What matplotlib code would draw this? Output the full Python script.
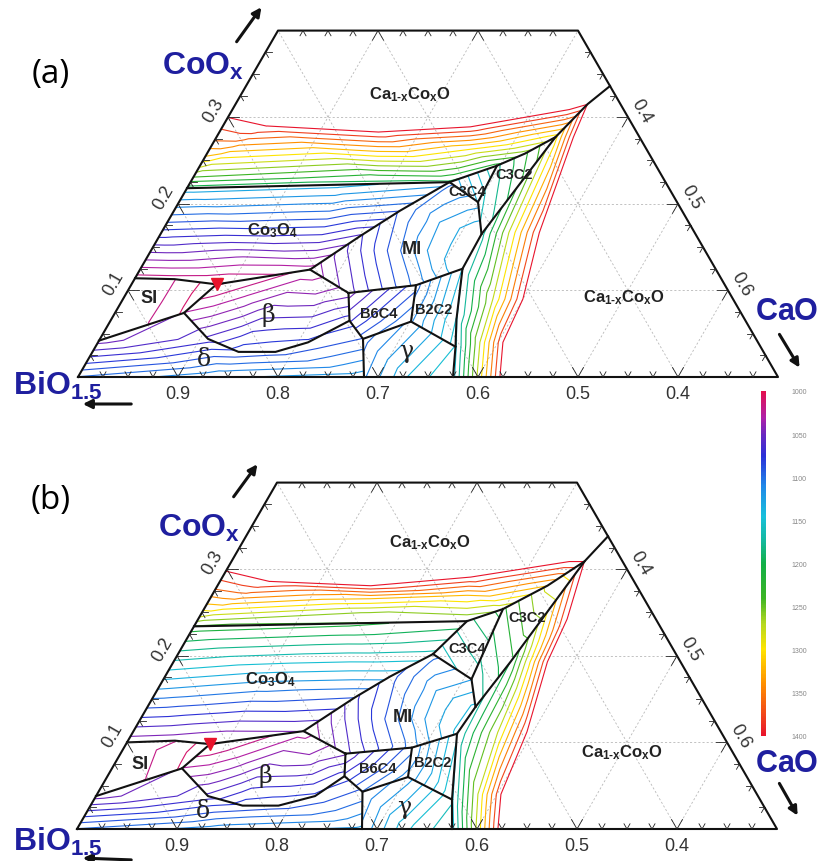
import numpy as np
import matplotlib
matplotlib.use('Agg')
import matplotlib.pyplot as plt
import matplotlib.tri as mtri
from matplotlib.colors import LinearSegmentedColormap, Normalize
from matplotlib.patches import Polygon
from matplotlib.cm import ScalarMappable

plt.rcParams['font.family'] = ['Liberation Sans', 'DejaVu Sans']
plt.rcParams['mathtext.fontset'] = 'custom'
plt.rcParams['mathtext.rm'] = 'Liberation Sans'
plt.rcParams['mathtext.bf'] = 'Liberation Sans:bold'
plt.rcParams['mathtext.it'] = 'Liberation Sans:italic'

# colour scale of the isotherms (deg C)
T_STOPS = [1000, 1030, 1050, 1075, 1110, 1145, 1175, 1200, 1240, 1270, 1300, 1340, 1400]
T_COLORS = ['#e4104e', '#b020a8', '#6a28c0', '#2a30d8', '#2088e8', '#18c0dc', '#14b89a',
            '#12b048', '#3cb424', '#b4d820', '#ffe400', '#ff9000', '#e8142c']
CBAR_TICKS = [1000, 1050, 1100, 1150, 1200, 1250, 1300, 1350, 1400]
BI_TICKS = [0.9, 0.8, 0.7, 0.6, 0.5, 0.4]
CO_TICKS = [0.1, 0.2, 0.3]
CA_TICKS = [0.4, 0.5, 0.6]

# ---------------- panel (a): compositions (CaO, CoOx) ----------------
a_L1 = (0.000, 0.114); a_S1 = (0.040, 0.113); a_T = (0.085, 0.107)
a_J1 = (0.170, 0.124); a_J2 = (0.069, 0.074); a_L2 = (0.000, 0.042)
a_D0 = (0.108, 0.044); a_D1 = (0.146, 0.029); a_D2 = (0.183, 0.029); a_D3 = (0.210, 0.040)
a_BTL = (0.222, 0.097); a_BTR = (0.285, 0.106); a_BBR = (0.301, 0.064)
a_BB = (0.263, 0.044); a_BBL = (0.239, 0.065); a_G0 = (0.286, 0.000)
a_M0 = (0.201, 0.163); a_M1 = (0.226, 0.192)
a_C4a = (0.259, 0.225); a_C4c = (0.297, 0.244); a_C4d = (0.299, 0.202)
a_J5 = (0.321, 0.165); a_J3 = (0.322, 0.125); a_R1 = (0.345, 0.067)
a_J4 = (0.360, 0.035); a_R0 = (0.375, 0.000)
a_K = (0.339, 0.277); a_K2 = (0.318, 0.258); a_P = (0.352, 0.315); a_E = (0.364, 0.336)
a_W = (0.000, 0.218)

A_BOUNDS = [
    [a_W, a_C4a, a_C4c, a_K2, a_K, a_P, a_E],
    [a_L1, a_S1, a_T, a_J1, a_M0, a_M1, a_C4a],
    [a_C4a, a_C4d, a_J5], [a_C4c, a_C4d],
    [a_K, a_J5, a_J3, a_R1, a_J4, a_R0],
    [a_T, a_J2, a_L2], [a_J2, a_D0, a_D1, a_D2, a_D3, a_BBL],
    [a_J1, a_BTL, a_BTR, a_BBR, a_BB, a_BBL, a_BTL],
    [a_BTR, a_J3], [a_BBR, a_J4], [a_BB, a_G0],
]

A_TOP = [a_W, (0.0, 0.4), (0.3, 0.4), a_E, a_P, a_K, a_K2, a_C4c, a_C4a]
A_TOP_T = [((0.0, 0.4), 1500), ((0.15, 0.4), 1500), ((0.3, 0.4), 1500), (a_E, 1450),
           (a_P, 1400), (a_K, 1290), (a_K2, 1250), (a_C4c, 1212), (a_C4a, 1195), (a_W, 1190),
           ((0.0, 0.300), 1400), ((0.0, 0.273), 1360), ((0.0, 0.255), 1320),
           ((0.0, 0.242), 1280), ((0.0, 0.231), 1240),
           ((0.044, 0.290), 1400), ((0.159, 0.283), 1400), ((0.248, 0.289), 1400),
           ((0.337, 0.309), 1400), ((0.172, 0.255), 1300), ((0.186, 0.229), 1205),
           ((0.260, 0.263), 1300)]
A_TOP_LEV = list(range(1200, 1401, 20))

A_CO = [a_L1, a_W, a_C4a, a_M1, a_M0, a_J1, a_T, a_S1]
A_CO_T = [(a_L1, 1015), (a_S1, 1015), (a_T, 1008), (a_J1, 1025), (a_M0, 1058), (a_M1, 1090),
          (a_C4a, 1125), (a_W, 1135), ((0.15, 0.221), 1132), ((0.0, 0.166), 1075),
          ((0.10, 0.165), 1072), ((0.10, 0.135), 1035)]
A_CO_LEV = list(range(1020, 1131, 10))

A_SI = [a_L1, a_S1, a_T, a_J2, a_L2]
A_SI_T = [(a_L1, 1030), (a_L2, 1032), ((0.0, 0.078), 1035), (a_S1, 1020), ((0.041, 0.061), 1019),
          (a_T, 1003), (a_J2, 1008), ((0.058, 0.092), 1012)]
A_SI_LEV = [1010, 1020]

A_BETA = [a_T, a_J1, a_BTL, a_BBL, a_D3, a_D2, a_D1, a_D0, a_J2]
A_BETA_T = [(a_T, 1008), (a_J1, 1022), (a_BTL, 1045), (a_BBL, 1075), (a_D3, 1082), (a_D2, 1088),
            (a_D1, 1085), (a_D0, 1062), (a_J2, 1030), ((0.15, 0.07), 1058),
            ((0.12, 0.095), 1028), ((0.19, 0.095), 1040)]
A_BETA_LEV = list(range(1010, 1081, 10))

A_DELTA = [(0.0, 0.0), a_L2, a_J2, a_D0, a_D1, a_D2, a_D3, a_BBL, a_BB, a_G0]
A_DELTA_T = [((0.0, 0.0), 1100), (a_L2, 1045), (a_J2, 1050), (a_D0, 1065), (a_D1, 1082),
             (a_D2, 1085), (a_D3, 1082), (a_BBL, 1075), (a_BB, 1090), (a_G0, 1125),
             ((0.143, 0.0), 1118)]
A_DELTA_LEV = list(range(1050, 1121, 10))

A_MI = [a_J1, a_M0, a_M1, a_C4a, a_C4d, a_J5, a_J3, a_BTR, a_BTL]
A_MI_T = [(a_J1, 1031), (a_BTL, 1055), (a_BTR, 1103), (a_J3, 1140), (a_J5, 1140), (a_C4d, 1115),
          (a_C4a, 1097), (a_M0, 1068), (a_M1, 1091),
          ((0.277, 0.146), 1120), ((0.237, 0.146), 1090), ((0.197, 0.146), 1060),
          ((0.273, 0.178), 1120), ((0.251, 0.194), 1105), ((0.292, 0.125), 1120),
          ((0.266, 0.105), 1090), ((0.294, 0.192), 1120)]
A_MI_LEV = list(range(1040, 1131, 10))

A_C34 = [a_C4a, a_C4c, a_C4d]
A_C34_T = [(a_C4a, 1120), (a_C4c, 1170), (a_C4d, 1140)]
A_C34_LEV = [1130, 1140, 1150, 1160]

A_C32 = [a_C4c, a_K2, a_K, a_J5, a_C4d]
A_C32_T = [(a_C4c, 1175), (a_K2, 1215), (a_K, 1265), (a_J5, 1165), (a_C4d, 1150)]
A_C32_LEV = list(range(1160, 1261, 20))

A_RIGHT = [a_K, a_P, a_E, (0.7, 0.0), a_R0, a_J4, a_R1, a_J3, a_J5]
A_RIGHT_T = [(a_K, 1290), (a_P, 1400), (a_E, 1450), ((0.7, 0.0), 1600), ((0.5, 0.0), 1500),
             ((0.5, 0.15), 1520), (a_R0, 1140), (a_J4, 1145), (a_R1, 1148), (a_J3, 1150),
             (a_J5, 1165), ((0.422, 0.0), 1400), ((0.405, 0.040), 1400), ((0.400, 0.090), 1400),
             ((0.378, 0.167), 1400), ((0.357, 0.277), 1400), ((0.399, 0.0), 1275),
             ((0.382, 0.040), 1275), ((0.370, 0.090), 1275), ((0.350, 0.167), 1285)]
A_RIGHT_LEV = list(range(1150, 1401, 25))

A_B64 = [a_BTL, a_BTR, a_BBR, a_BB, a_BBL]
A_B64_T = [(a_BTL, 1045), (a_BTR, 1085), (a_BBR, 1110), (a_BB, 1095), (a_BBL, 1068)]
A_B22 = [a_BTR, a_J3, a_R1, a_J4, a_BBR]
A_B22_T = [(a_BTR, 1095), (a_J3, 1140), (a_R1, 1150), (a_J4, 1155), (a_BBR, 1108)]
A_GAM = [a_BB, a_BBR, a_J4, a_R0, a_G0]
A_GAM_T = [(a_BB, 1095), (a_BBR, 1112), (a_J4, 1150), (a_R0, 1160), (a_G0, 1108),
           ((0.33, 0.0), 1140)]
SMALL_LEV = list(range(1050, 1161, 10))

# ---------------- panel (b) ----------------
b_L1 = (0.000, 0.100); b_S1 = (0.047, 0.102); b_T = (0.084, 0.098)
b_J1 = (0.170, 0.113); b_J2 = (0.070, 0.070); b_L2 = (0.000, 0.038)
b_D0 = (0.112, 0.038); b_D1 = (0.152, 0.027); b_D2 = (0.188, 0.027); b_D3 = (0.219, 0.038)
b_BTL = (0.225, 0.087); b_BTR = (0.288, 0.094); b_BBR = (0.301, 0.060)
b_BB = (0.264, 0.043); b_BBL = (0.237, 0.061); b_G0 = (0.285, 0.000)
b_M0 = (0.202, 0.152); b_M1 = (0.225, 0.176)
b_C4a = (0.255, 0.202); b_C4b = (0.270, 0.240); b_C4c = (0.299, 0.254); b_C4d = (0.308, 0.173)
b_J5 = (0.328, 0.141); b_J3 = (0.325, 0.110); b_J4 = (0.358, 0.034); b_R0 = (0.375, 0.000)
b_K = (0.330, 0.281); b_K2 = (0.337, 0.193); b_P = (0.353, 0.309); b_E = (0.362, 0.338)
b_W = (0.000, 0.234)

B_BOUNDS = [
    [b_W, b_C4b, b_C4c, b_K, b_P, b_E],
    [b_L1, b_S1, b_T, b_J1, b_M0, b_M1, b_C4a, b_C4b],
    [b_C4a, b_C4d, b_J5], [b_C4c, b_C4d],
    [b_P, b_K2, b_J5, b_J3, b_J4, b_R0],
    [b_T, b_J2, b_L2], [b_J2, b_D0, b_D1, b_D2, b_D3, b_BBL],
    [b_J1, b_BTL, b_BTR, b_BBR, b_BB, b_BBL, b_BTL],
    [b_BTR, b_J3], [b_BBR, b_J4], [b_BB, b_G0],
]

B_TOP = [b_W, (0.0, 0.4), (0.3, 0.4), b_E, b_P, b_K, b_C4c, b_C4b]
B_TOP_T = [((0.0, 0.4), 1500), ((0.15, 0.4), 1500), ((0.3, 0.4), 1500), (b_E, 1450),
           (b_P, 1400), (b_K, 1320), (b_C4c, 1265), (b_C4b, 1240), (b_W, 1238),
           ((0.0, 0.298), 1400), ((0.0, 0.277), 1360), ((0.0, 0.260), 1320),
           ((0.0, 0.245), 1280), ((0.050, 0.286), 1400), ((0.153, 0.281), 1400),
           ((0.248, 0.291), 1400), ((0.338, 0.309), 1400), ((0.160, 0.266), 1320),
           ((0.170, 0.246), 1245), ((0.255, 0.270), 1320)]
B_TOP_LEV = list(range(1240, 1401, 20))

B_CO = [b_L1, b_W, b_C4b, b_C4a, b_M1, b_M0, b_J1, b_T, b_S1]
B_CO_T = [(b_L1, 1035), (b_S1, 1035), (b_T, 1025), (b_J1, 1045), (b_M0, 1090), (b_M1, 1125),
          (b_C4a, 1160), (b_C4b, 1205), (b_W, 1218), ((0.15, 0.236), 1212),
          ((0.0, 0.167), 1127), ((0.10, 0.167), 1115), ((0.10, 0.125), 1060)]
B_CO_LEV = list(range(1045, 1211, 15))

B_SI = [b_L1, b_S1, b_T, b_J2, b_L2]
B_SI_T = [(b_L1, 1030), (b_L2, 1032), ((0.0, 0.070), 1035), (b_S1, 1020), ((0.041, 0.058), 1019),
          (b_T, 1003), (b_J2, 1008), ((0.058, 0.085), 1012)]

B_BETA = [b_T, b_J1, b_BTL, b_BBL, b_D3, b_D2, b_D1, b_D0, b_J2]
B_BETA_T = [(b_T, 1008), (b_J1, 1025), (b_BTL, 1048), (b_BBL, 1075), (b_D3, 1082), (b_D2, 1088),
            (b_D1, 1085), (b_D0, 1062), (b_J2, 1030), ((0.15, 0.062), 1058),
            ((0.12, 0.085), 1028), ((0.19, 0.085), 1040)]

B_DELTA = [(0.0, 0.0), b_L2, b_J2, b_D0, b_D1, b_D2, b_D3, b_BBL, b_BB, b_G0]
B_DELTA_T = [((0.0, 0.0), 1100), (b_L2, 1045), (b_J2, 1050), (b_D0, 1065), (b_D1, 1082),
             (b_D2, 1085), (b_D3, 1082), (b_BBL, 1075), (b_BB, 1092), (b_G0, 1122),
             ((0.143, 0.0), 1115)]

B_MI = [b_J1, b_M0, b_M1, b_C4a, b_C4d, b_J5, b_J3, b_BTR, b_BTL]
B_MI_T = [(b_J1, 1029), (b_BTL, 1056), (b_BTR, 1105), (b_J3, 1142), (b_J5, 1142), (b_C4d, 1119),
          (b_C4a, 1096), (b_M0, 1067), (b_M1, 1085),
          ((0.285, 0.127), 1120), ((0.245, 0.127), 1090), ((0.205, 0.127), 1060),
          ((0.280, 0.159), 1120), ((0.258, 0.176), 1105), ((0.299, 0.106), 1120),
          ((0.275, 0.097), 1095)]

B_C34 = [b_C4a, b_C4b, b_C4c, b_C4d]
B_C34_T = [(b_C4a, 1150), (b_C4b, 1185), (b_C4c, 1210), (b_C4d, 1165)]
B_C34_LEV = [1160, 1175, 1190, 1205]

B_C32 = [b_C4c, b_K, b_P, b_K2, b_J5, b_C4d]
B_C32_T = [(b_C4c, 1215), (b_K, 1285), (b_P, 1320), (b_K2, 1215), (b_J5, 1170), (b_C4d, 1165)]
B_C32_LEV = list(range(1180, 1301, 20))

B_RIGHT = [b_P, b_E, (0.7, 0.0), b_R0, b_J4, b_J3, b_J5, b_K2]
B_RIGHT_T = [(b_P, 1400), (b_E, 1450), ((0.7, 0.0), 1600), ((0.5, 0.0), 1500),
             ((0.5, 0.15), 1520), (b_R0, 1140), (b_J4, 1145), (b_J3, 1150), (b_J5, 1165),
             (b_K2, 1200), ((0.421, 0.0), 1400), ((0.404, 0.040), 1400), ((0.394, 0.112), 1400),
             ((0.374, 0.193), 1400), ((0.369, 0.2425), 1400), ((0.399, 0.0), 1275),
             ((0.381, 0.040), 1275), ((0.365, 0.112), 1275), ((0.355, 0.193), 1290)]

B_B64 = [b_BTL, b_BTR, b_BBR, b_BB, b_BBL]
B_B64_T = [(b_BTL, 1050), (b_BTR, 1095), (b_BBR, 1115), (b_BB, 1100), (b_BBL, 1072)]
B_B22 = [b_BTR, b_J3, b_J4, b_BBR]
B_B22_T = [(b_BTR, 1100), (b_J3, 1148), (b_J4, 1160), (b_BBR, 1112)]
B_GAM = [b_BB, b_BBR, b_J4, b_R0, b_G0]
B_GAM_T = [(b_BB, 1100), (b_BBR, 1115), (b_J4, 1158), (b_R0, 1168), (b_G0, 1112),
           ((0.33, 0.0), 1148)]

A_REGIONS = [(A_TOP, A_TOP_T, A_TOP_LEV), (A_CO, A_CO_T, A_CO_LEV), (A_SI, A_SI_T, A_SI_LEV),
             (A_BETA, A_BETA_T, A_BETA_LEV), (A_DELTA, A_DELTA_T, A_DELTA_LEV),
             (A_MI, A_MI_T, A_MI_LEV), (A_C34, A_C34_T, A_C34_LEV), (A_C32, A_C32_T, A_C32_LEV),
             (A_RIGHT, A_RIGHT_T, A_RIGHT_LEV), (A_B64, A_B64_T, SMALL_LEV),
             (A_B22, A_B22_T, SMALL_LEV), (A_GAM, A_GAM_T, SMALL_LEV)]
B_REGIONS = [(B_TOP, B_TOP_T, B_TOP_LEV), (B_CO, B_CO_T, B_CO_LEV), (B_SI, B_SI_T, A_SI_LEV),
             (B_BETA, B_BETA_T, A_BETA_LEV), (B_DELTA, B_DELTA_T, A_DELTA_LEV),
             (B_MI, B_MI_T, A_MI_LEV + [1140]), (B_C34, B_C34_T, B_C34_LEV),
             (B_C32, B_C32_T, B_C32_LEV), (B_RIGHT, B_RIGHT_T, A_RIGHT_LEV),
             (B_B64, B_B64_T, SMALL_LEV), (B_B22, B_B22_T, SMALL_LEV), (B_GAM, B_GAM_T, SMALL_LEV + [1170])]

CMAP = LinearSegmentedColormap.from_list(
    'iso', [((t - 1000) / 400, c) for t, c in zip(T_STOPS, T_COLORS)])
NORM = Normalize(1000, 1400)
S3 = np.sqrt(3) / 2
W, H = 823, 862


def tern(p):
    a, c = p
    return a + c / 2, c * S3


def draw_panel(ax, regions, bounds, eutectic):
    frame = [(0, 0), (0.7, 0), (0.3, 0.4), (0, 0.4)]
    fpoly = Polygon([tern(p) for p in frame], closed=True, transform=ax.transData)
    # dashed composition grid
    gl = []
    for v in CO_TICKS:
        gl.append([(0, v), (0.7 - v, v)])
    for a in [0.1, 0.2, 0.3, 0.4, 0.5, 0.6]:
        gl.append([(a, 0), (a, min(0.4, 0.7 - a))])
    for b in BI_TICKS:
        s = 1 - b
        gl.append([(s, 0), (max(0, s - 0.4), min(s, 0.4))])
    for seg in gl:
        xy = np.array([tern(p) for p in seg])
        ln, = ax.plot(xy[:, 0], xy[:, 1], color='#b8b8b8', lw=0.6, dashes=(2.5, 2.5), zorder=1)
        ln.set_clip_path(fpoly)
    # isotherms, one region at a time
    for poly, nodes, levels in regions:
        xy = np.array([tern(p) for p, t in nodes])
        tv = np.array([t for p, t in nodes], float)
        tri = mtri.Triangulation(xy[:, 0], xy[:, 1])
        cs = ax.tricontour(tri, tv, levels=np.array(levels) - 0.5, cmap=CMAP, norm=NORM,
                           linewidths=0.8, zorder=2)
        cs.set_clip_path(Polygon([tern(p) for p in poly], closed=True, transform=ax.transData))
    # phase boundaries
    for line in bounds:
        xy = np.array([tern(p) for p in line])
        ax.plot(xy[:, 0], xy[:, 1], color='#111111', lw=1.5, zorder=3, solid_joinstyle='round')
    fx = np.array([tern(p) for p in frame + [frame[0]]])
    ax.plot(fx[:, 0], fx[:, 1], color='#111111', lw=1.5, zorder=4)
    # ticks along the four edges
    edges = [((0, 0), (1, 0), 28, [(0.5, S3), (-0.5, S3)]),
             ((0, 0.4), (1, 0), 12, [(0.5, -S3), (-0.5, -S3)]),
             ((0, 0), (0, 1), 16, [(1, 0), (0.5, -S3)]),
             ((0.7, 0), (-1, 1), 16, [(-1, 0), (-0.5, -S3)])]
    for p0, d, n, dirs in edges:
        for i in range(1, n):
            f = i * 0.025
            x0, y0 = tern((p0[0] + d[0] * f, p0[1] + d[1] * f))
            big = abs(f * 10 - round(f * 10)) < 1e-6
            L = 0.011 if big else 0.006
            for dx, dy in dirs:
                ax.plot([x0, x0 + dx * L], [y0, y0 + dy * L], color='#222222', lw=0.6, zorder=4)
    # tick labels
    for b in BI_TICKS:
        ax.text(1 - b, -0.017, f'{b:.1f}', ha='center', va='center', fontsize=13, color='#333333')
    for c in CO_TICKS:
        x, y = tern((0, c))
        ax.text(x - 0.014, y + 0.007, f'{c:.1f}', ha='center', va='center', rotation=60,
                fontsize=13, color='#333333')
    for a in CA_TICKS:
        x, y = tern((a, 0.7 - a))
        ax.text(x + 0.013, y + 0.007, f'{a:.1f}', ha='center', va='center', rotation=-60,
                fontsize=13, color='#333333')
    ex, ey = tern(eutectic)
    ax.plot([ex], [ey], marker='v', ms=9, color='#e8142c', mec='#e8142c', zorder=5)


fig = plt.figure(figsize=(W / 100, H / 100), dpi=100)
ax_a = fig.add_axes([0, 0.5, 1, 0.5])
ax_a.set_xlim(-0.078, 0.745); ax_a.set_ylim(-0.053, 0.378)
ax_b = fig.add_axes([0, 0, 1, 0.5])
ax_b.set_xlim(-0.077, 0.746); ax_b.set_ylim(-0.032, 0.399)
for ax in (ax_a, ax_b):
    ax.axis('off')

draw_panel(ax_a, A_REGIONS, A_BOUNDS, a_T)
draw_panel(ax_b, B_REGIONS, B_BOUNDS, b_T)


def ftext(px, py, s, **kw):
    fig.text(px / W, 1 - py / H, s, **kw)


def farrow(p0, p1):
    fig.add_artist(matplotlib.patches.FancyArrowPatch(
        (p0[0] / W, 1 - p0[1] / H), (p1[0] / W, 1 - p1[1] / H), transform=fig.transFigure,
        arrowstyle='-|>', mutation_scale=13, lw=2.2, color='#111111'))


BLUE = '#1f1f9f'
CAX = r'$\mathbf{Ca_{1‐x}Co_xO}$'
REG = dict(ha='center', va='center', fontsize=12, color='#222222', fontweight='bold')
GRK = dict(ha='center', va='center', fontsize=17, color='#222222', family='DejaVu Serif')
for dy, lab, lbl in [(0, '(a)', [(410, 95), (624, 298), (272, 231), (412, 250), (149, 299),
                                  (268, 315), (204, 360), (379, 314), (434, 310), (406, 352),
                                  (467, 192), (514, 175)]),
                     (1, '(b)', [(430, 543), (622, 753), (270, 680), (403, 718), (140, 765),
                                  (265, 776), (203, 812), (378, 769), (433, 763), (404, 808),
                                  (467, 649), (527, 618)])]:
    ftext(51, 74 + dy * 427, lab, ha='center', va='center', fontsize=24, family='Open Sans')
    ftext(*lbl[0], CAX, **REG)
    ftext(*lbl[1], CAX, **REG)
    ftext(*lbl[2], r'$\mathbf{Co_3O_4}$', **REG)
    ftext(*lbl[3], 'MI', **dict(REG, fontsize=13))
    ftext(*lbl[4], 'SI', **dict(REG, fontsize=13))
    ftext(*lbl[5], 'β', **GRK)
    ftext(*lbl[6], 'δ', **GRK)
    ftext(*lbl[7], 'B6C4', **dict(REG, fontsize=10.5))
    ftext(*lbl[8], 'B2C2', **dict(REG, fontsize=10.5))
    ftext(*lbl[9], 'γ', **GRK)
    ftext(*lbl[10], 'C3C4', **dict(REG, fontsize=10.5))
    ftext(*lbl[11], 'C3C2', **dict(REG, fontsize=10.5))

ftext(162, 75, r'$\mathbf{CoO_x}$', ha='left', va='baseline', fontsize=23, color=BLUE)
ftext(13, 395, r'$\mathbf{BiO_{1.5}}$', ha='left', va='baseline', fontsize=23, color=BLUE)
ftext(755, 320, r'$\mathbf{CaO}$', ha='left', va='baseline', fontsize=22, color=BLUE)
ftext(158, 537, r'$\mathbf{CoO_x}$', ha='left', va='baseline', fontsize=23, color=BLUE)
ftext(13, 851, r'$\mathbf{BiO_{1.5}}$', ha='left', va='baseline', fontsize=23, color=BLUE)
ftext(755, 772, r'$\mathbf{CaO}$', ha='left', va='baseline', fontsize=22, color=BLUE)
farrow((235, 45), (263, 6))
farrow((134, 405), (80, 405))
farrow((778, 333), (801, 371))
farrow((232, 500), (259, 463))
farrow((134, 861), (80, 859))
farrow((778, 782), (799, 819))

cax = fig.add_axes([761 / W, 1 - 737 / H, 5 / W, 345 / H])
cb = fig.colorbar(ScalarMappable(norm=NORM, cmap=CMAP), cax=cax, ticks=CBAR_TICKS)
cax.invert_yaxis()
cb.outline.set_visible(False)
cax.tick_params(length=0, pad=18, labelsize=5, labelcolor='#888888')

fig.savefig('out.png', dpi=100)
